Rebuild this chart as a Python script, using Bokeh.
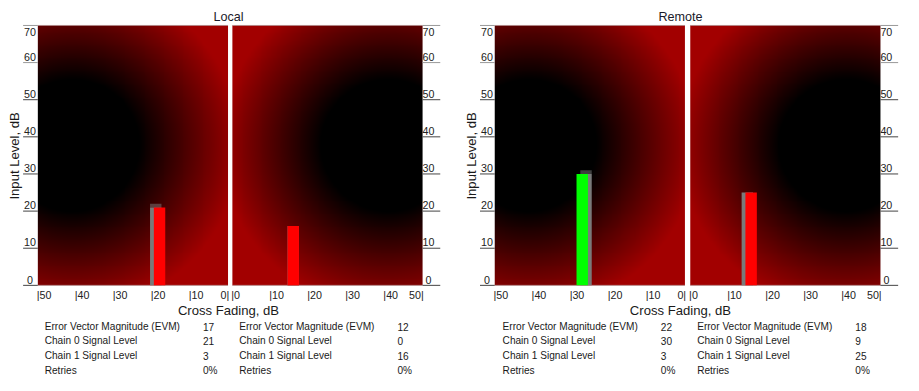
import numpy as np
from bokeh.plotting import figure
from bokeh.models import Range1d, ColumnDataSource
from bokeh.core.properties import value
from bokeh.embed import file_html
from bokeh.resources import INLINE

# ---------------- data ----------------
panel_titles = ["Local", "Remote"]
metric_labels = ["Error Vector Magnitude (EVM)", "Chain 0 Signal Level",
                 "Chain 1 Signal Level", "Retries"]
# one entry per half-chart: Local-left, Local-right, Remote-left, Remote-right
evm = [17, 12, 22, 18]
chain0 = [21, 0, 30, 9]
chain1 = [3, 16, 3, 25]
retries = ["0%", "0%", "0%", "0%"]
bar_fading = [18, 16, 27, 16]      # cross fading, dB
bar_level = [21, 16, 30, 25]       # input level, dB
bar_colors = ["#ff0000", "#ff0000", "#00ff00", "#ff0000"]
prev_fading = [19, 16, 26, 15]
prev_level = [22, 16, 31, 25]
y_ticks = [0, 10, 20, 30, 40, 50, 60, 70]
x_ticks = [0, 10, 20, 30, 40, 50]

# ---------------- layout (reference px -> data units) ----------------
S = 3.871                      # reference px per dB
PX0, PY0 = 38.0, 297.0         # reference px of origin
REF_W, REF_H = 919, 391
W, H = 903, 375
FS = 0.97                      # font scale (figure is slightly smaller than reference)
def ux(px): return (px - PX0) / S
def vy(py): return (PY0 - py) / S
def fpx(n): return "%.1fpx" % (n * FS)

half_left_px = [38, 236, 503, 702]
reversed_half = [True, False, True, False]
u0s = [ux(px) for px in half_left_px]
FONT = value("Liberation Sans")

p = figure(width=W, height=H, output_backend="svg", toolbar_location=None,
           x_range=Range1d(ux(0), ux(REF_W)), y_range=Range1d(vy(REF_H), vy(0)),
           x_axis_type=None, y_axis_type=None, min_border=0,
           outline_line_color=None, background_fill_color="white",
           border_fill_color="white")
p.grid.visible = False

def U(h, v):
    return u0s[h] + (50 - v if reversed_half[h] else v)

# gradient backgrounds
nx, ny = 200, 280
for h in range(4):
    cols = (np.arange(nx) + 0.5) * 50 / nx
    v = 50 - cols if reversed_half[h] else cols
    yv = (np.arange(ny) + 0.5) * 70 / ny
    V, Y = np.meshgrid(v, yv)
    d = np.hypot(V - 41, Y - 37.6)
    t = np.clip((d - 17.5) / (44 - 17.5), 0, 1)
    img = np.zeros((ny, nx), dtype=np.uint32)
    view = img.view(dtype=np.uint8).reshape((ny, nx, 4))
    view[:, :, 0] = (162 * t).astype(np.uint8)
    view[:, :, 3] = 255
    p.image_rgba(image=[img], x=u0s[h], y=0, dw=50, dh=70)
    p.segment(x0=[u0s[h], u0s[h]], y0=[70, 0], x1=[u0s[h] + 50, u0s[h] + 50], y1=[70, 0],
              line_color="#b08888", line_width=1, line_alpha=0.8)

# bars
for h in range(4):
    pl, pr = sorted([U(h, prev_fading[h] - 1.5), U(h, prev_fading[h] + 1.5)])
    bl, br = sorted([U(h, bar_fading[h] - 1.5), U(h, bar_fading[h] + 1.5)])
    low = min(prev_level[h], bar_level[h])
    p.quad(left=[pl], right=[pr], bottom=[0], top=[low], fill_color="#7a7a7a", line_color=None)
    if prev_level[h] > low:
        p.quad(left=[pl], right=[pr], bottom=[low], top=[prev_level[h]],
               fill_color="#8a8a8a", fill_alpha=0.45, line_color=None)
    p.quad(left=[bl], right=[br], bottom=[0], top=[bar_level[h]],
           fill_color=bar_colors[h], line_color=None)

# y axes (left of left halves, right of right halves); labels sit on an underline
for h in range(4):
    if reversed_half[h]:
        ex = u0s[h]
        x0, x1, lx = ex - 15 / S, ex, ex - 8.0 / S
    else:
        ex = u0s[h] + 50
        x0, x1, lx = ex, ex + 18 / S, ex + 6 / S
    p.segment(x0=[x0] * len(y_ticks), x1=[x1] * len(y_ticks), y0=y_ticks, y1=y_ticks,
              line_color=["#999999" if t >= 60 else "#444444" for t in y_ticks], line_width=1)
    ly = [t + 6.0 / S for t in y_ticks[:-1]] + [y_ticks[-1] - 6.5 / S]
    src = ColumnDataSource(dict(x=[lx] * len(y_ticks), y=ly,
                                text=[str(t) for t in y_ticks]))
    p.text(x="x", y="y", text="text", source=src, text_font=FONT, text_font_size=fpx(11),
           text_align="center", text_baseline="middle", text_color="#222222")

# x tick labels
xt_y = vy(307)
for h in range(4):
    xs, ys, txt, al = [], [], [], []
    for t in x_ticks:
        end = (t == 0) if reversed_half[h] else (t == 50)
        if end:
            xs.append(U(h, t) + 1.2 / S); txt.append(str(t) + "|"); al.append("right")
        else:
            xs.append(U(h, t) - 1.2 / S); txt.append("|" + str(t)); al.append("left")
        ys.append(xt_y)
    src = ColumnDataSource(dict(x=xs, y=ys, text=txt, align=al))
    p.text(x="x", y="y", text="text", text_align="align", source=src, text_font=FONT,
           text_font_size=fpx(11), text_baseline="middle", text_color="#222222")

# titles and axis titles
centers_px = [232, 692]
p.text(x=[ux(c) for c in centers_px], y=[vy(17)] * 2, text=panel_titles, text_font=FONT,
       text_font_size=fpx(13), text_align="center", text_baseline="middle", text_color="#1a1a2a")
p.text(x=[ux(c) for c in centers_px], y=[vy(323)] * 2, text=["Cross Fading, dB"] * 2,
       text_font=FONT, text_font_size=fpx(13.5), text_align="center", text_baseline="middle",
       text_color="#1a1a1a")
p.text(x=[ux(14), ux(479)], y=[vy(162)] * 2, text=["Input Level, dB"] * 2, angle=np.pi / 2,
       text_font=FONT, text_font_size=fpx(13.5), text_align="center", text_baseline="middle",
       text_color="#1a1a1a")

# stats tables
label_px = [45, 243, 511, 709]
val_px = [206, 404, 672, 870]
row_py = [340, 355, 370.5, 385.5]
for h in range(4):
    vals = [str(evm[h]), str(chain0[h]), str(chain1[h]), retries[h]]
    p.text(x=[ux(label_px[h])] * 4, y=[vy(r) for r in row_py], text=metric_labels,
           text_font=FONT, text_font_size=fpx(10.4), text_baseline="middle", text_color="#1a1a1a")
    p.text(x=[ux(val_px[h])] * 4, y=[vy(r) for r in row_py], text=vals,
           text_font=FONT, text_font_size=fpx(10.4), text_baseline="middle", text_color="#1a1a1a")

open("out.html", "w").write(file_html(p, INLINE))
